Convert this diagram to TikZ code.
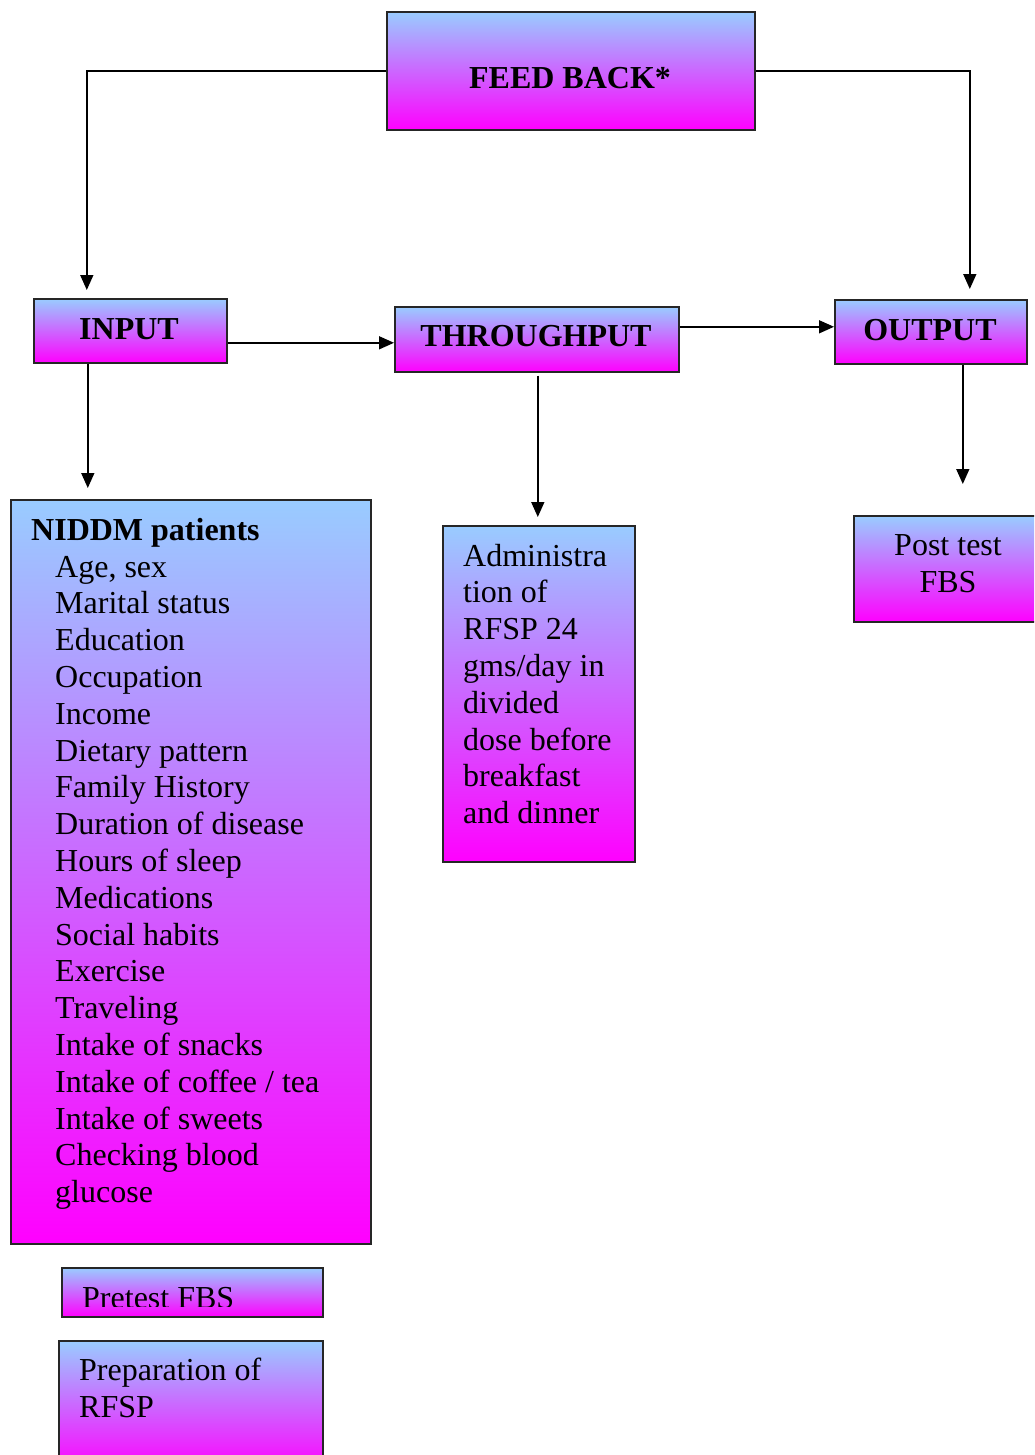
\documentclass[tikz,border=0pt]{standalone}
\usepackage{fontspec}
\setmainfont{Liberation Serif}
\usetikzlibrary{arrows.meta}
\definecolor{gtop}{RGB}{153,204,255}
\definecolor{gbot}{RGB}{255,0,255}
\tikzset{
 grbox/.style={draw=black!85, line width=1.6pt, top color=gtop, bottom color=gbot, rectangle, inner sep=0pt, anchor=north west},
 conn/.style={line width=1.6pt, -{Triangle[length=15pt,width=13pt]}},
 head/.style={font=\fontsize{32}{36.8}\selectfont\bfseries, inner sep=0pt},
 body/.style={font=\fontsize{32}{36.8}\selectfont, inner sep=0pt, align=left, anchor=base west},
}
\begin{document}
\begin{tikzpicture}[x=1pt,y=-1pt]
\clip (0,0) rectangle (1034,1455);
\fill[white] (0,0) rectangle (1034,1455);
% boxes
\node[grbox, minimum width=368pt, minimum height=118pt] (fb) at (386,11) {};
\node[grbox, minimum width=193pt, minimum height=64pt] (inp) at (33,298) {};
\node[grbox, minimum width=284pt, minimum height=65pt] (thr) at (394,306) {};
\node[grbox, minimum width=192pt, minimum height=64pt] (out) at (834,299) {};
\node[grbox, minimum width=360pt, minimum height=744pt] (niddm) at (10,499) {};
\node[grbox, minimum width=192pt, minimum height=336pt] (adm) at (442,525) {};
\node[grbox, minimum width=200pt, minimum height=106pt] (post) at (853,515) {};
\node[grbox, minimum width=261pt, minimum height=49pt] (pre) at (61,1267) {};
\node[grbox, minimum width=264pt, minimum height=130pt] (prep) at (58,1340) {};
% titles
\node[head] (fbt) at (570,78) {FEED BACK*};
\node[head] (inpt) at (129,329) {INPUT};
\node[head] (thrt) at (536,336) {THROUGHPUT};
\node[head] (outt) at (930,330) {OUTPUT};
% texts (anchor = baseline of the last line)
\node[body, font=\fontsize{32}{36.8}\selectfont\bfseries] (niddmh) at (31,540) {NIDDM patients};
\node[body] (niddml) at (55,1202.6) {Age, sex\\Marital status\\Education\\Occupation\\Income\\Dietary pattern\\Family History\\Duration of disease\\Hours of sleep\\Medications\\Social habits\\Exercise\\Traveling\\Intake of snacks\\Intake of coffee / tea\\Intake of sweets\\Checking blood\\glucose};
\node[body] (admt) at (463,823.6) {Administra\\tion of\\RFSP 24\\gms/day in\\divided\\dose before\\breakfast\\and dinner};
\node[body, align=center, anchor=base] (postt) at (948,592) {Post test\\FBS};
\begin{scope}
\clip (61,1267) rectangle (322,1306);
\node[body] (pret) at (82,1308) {Pretest FBS};
\end{scope}
\node[body] (prept) at (79,1417) {Preparation of\\RFSP};
% connectors
\draw[conn, shorten >=8pt] (fb.west) -| ([xshift=-43.5pt]inp.north);
\draw[conn, shorten >=10pt] (fb.east) -| ([xshift=39pt]out.north);
\draw[conn] ([yshift=-12pt]inp.east) -- ([yshift=-3.5pt]thr.west);
\draw[conn] ([yshift=12.5pt]thr.east) -- ([yshift=5pt]out.west);
\draw[conn, shorten >=11pt] ([xshift=-42.5pt]inp.south) -- ([xshift=-103pt]niddm.north);
\draw[conn, shorten <=3pt, shorten >=8pt] ([xshift=1pt]thr.south) -- ([xshift=-1pt]adm.north);
\draw[conn, shorten >=31pt] ([xshift=32pt]out.south) -- ([xshift=9pt]post.north);
\end{tikzpicture}
\end{document}
